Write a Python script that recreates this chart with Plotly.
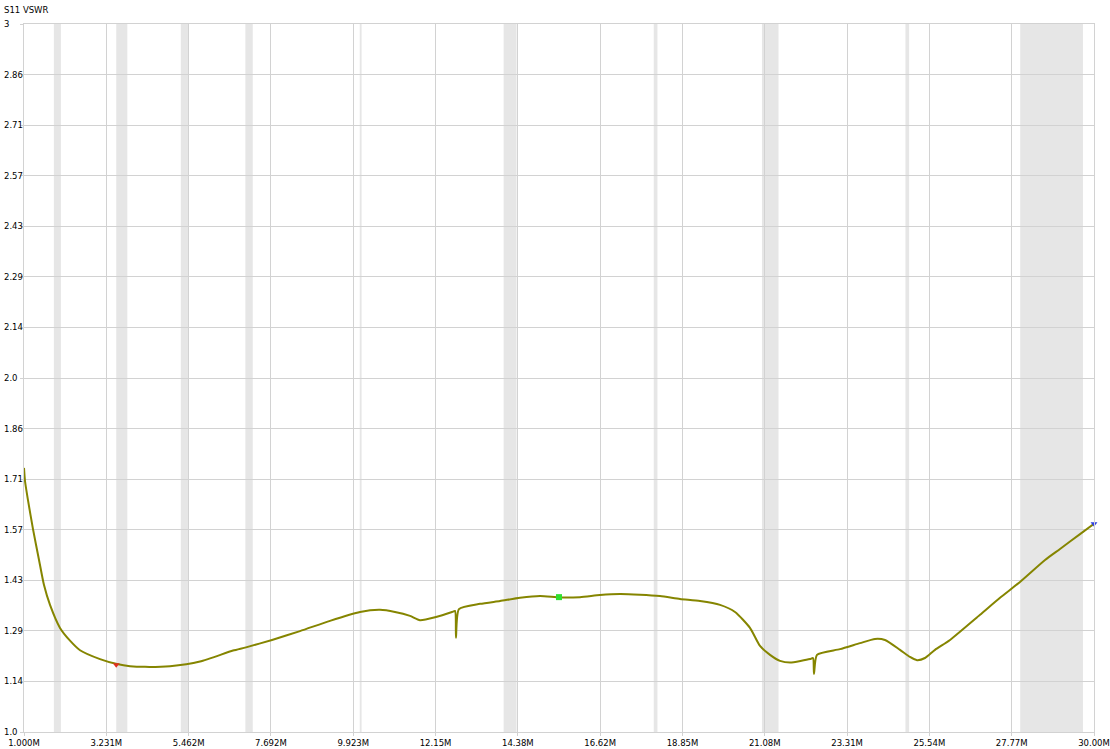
import plotly.graph_objects as go

freq_mhz = [1.000, 1.027, 1.108, 1.244, 1.407, 1.542, 1.705, 1.976, 2.247, 2.518,
            3.060, 3.521, 3.873, 4.279, 4.957, 5.770, 6.665, 7.017, 7.722, 8.480,
            9.293, 10.107, 10.649, 11.055, 11.462, 11.733, 12.166, 12.600, 12.681, 12.708,
            12.789, 13.359, 13.901, 14.443, 14.985, 15.527, 16.069, 16.611, 17.153, 17.695,
            18.237, 18.780, 19.322, 19.864, 20.270, 20.676, 20.948, 21.219, 21.490, 21.761,
            22.303, 22.384, 22.411, 22.492, 23.116, 23.658, 24.064, 24.335, 24.742, 25.013,
            25.203, 25.420, 25.691, 26.098, 26.911, 27.453, 27.995, 28.673, 29.079, 29.621,
            30.000]
vswr = [1.746, 1.709, 1.655, 1.573, 1.486, 1.415, 1.359, 1.294, 1.258, 1.231,
        1.206, 1.192, 1.186, 1.184, 1.186, 1.199, 1.230, 1.239, 1.260, 1.285,
        1.314, 1.339, 1.345, 1.339, 1.328, 1.316, 1.325, 1.339, 1.342, 1.266,
        1.347, 1.362, 1.370, 1.379, 1.384, 1.380, 1.381, 1.387, 1.390, 1.388,
        1.384, 1.376, 1.370, 1.359, 1.339, 1.294, 1.243, 1.218, 1.201, 1.196,
        1.206, 1.209, 1.164, 1.218, 1.234, 1.251, 1.263, 1.260, 1.232, 1.212,
        1.203, 1.209, 1.232, 1.260, 1.331, 1.379, 1.424, 1.486, 1.517, 1.559,
        1.588]

band_starts = [1.81, 3.5, 5.25, 7.0, 10.1, 14.0, 18.068, 21.0, 24.89, 28.0]
band_ends = [2.0, 3.8, 5.45, 7.2, 10.15, 14.35, 18.168, 21.45, 24.99, 29.7]

marker_freq = [3.5, 15.5, 30.0]
marker_vswr = [1.19, 1.381, 1.588]
marker_colors = ["#e03020", "#30e030", "#3040e0"]
marker_symbols = ["triangle-down", "square", "triangle-down"]

x_ticks = [round(1.0 + i * 29.0 / 13.0, 6) for i in range(14)]
x_tick_text = ["1.000M", "3.231M", "5.462M", "7.692M", "9.923M", "12.15M", "14.38M",
               "16.62M", "18.85M", "21.08M", "23.31M", "25.54M", "27.77M", "30.00M"]
y_ticks = [round(1.0 + i * 2.0 / 14.0, 6) for i in range(15)]
y_tick_text = ["1.0", "1.14", "1.29", "1.43", "1.57", "1.71", "1.86", "2.0",
               "2.14", "2.29", "2.43", "2.57", "2.71", "2.86", "3"]

fig = go.Figure()
fig.add_trace(go.Scatter(x=freq_mhz, y=vswr, mode="lines",
                         line=dict(color="#858500", width=2, shape="spline", smoothing=0.6),
                         hoverinfo="x+y", showlegend=False, cliponaxis=False))
fig.add_trace(go.Scatter(x=marker_freq, y=marker_vswr, mode="markers",
                         marker=dict(color=marker_colors, symbol=marker_symbols, size=6),
                         showlegend=False, cliponaxis=False))

for s, e in zip(band_starts, band_ends):
    fig.add_shape(type="rect", xref="x", yref="paper", x0=s, x1=e, y0=0, y1=1,
                  fillcolor="#e6e6e6", line=dict(width=0), layer="below")

grid = "#d2d2d2"
font = dict(family="DejaVu Sans, Verdana, sans-serif", size=8.5, color="#000000")

annotations = [dict(text="S11 VSWR", xref="paper", yref="paper", x=0, y=1,
                    xanchor="left", yanchor="middle", xshift=-22, yshift=14,
                    showarrow=False, font=font)]
for v, t in zip(y_ticks, y_tick_text):
    annotations.append(dict(text=t, xref="paper", yref="y", x=0, y=v,
                            xanchor="left", yanchor="middle", xshift=-22,
                            showarrow=False, font=font))

fig.update_layout(
    width=1110, height=749,
    margin=dict(l=24, r=16, t=24, b=17, autoexpand=False),
    paper_bgcolor="white", plot_bgcolor="white",
    font=font,
    xaxis=dict(range=[1, 30], tickvals=x_ticks, ticktext=x_tick_text, automargin=False,
               showgrid=True, gridcolor=grid, gridwidth=1, zeroline=False,
               showline=True, linecolor=grid, mirror=True,
               ticks="outside", ticklen=3, tickcolor=grid, tickfont=font),
    yaxis=dict(range=[1, 3], tickvals=y_ticks, showticklabels=False, automargin=False,
               showgrid=True, gridcolor=grid, gridwidth=1, zeroline=False,
               showline=True, linecolor=grid, mirror=True,
               ticks="outside", ticklen=3, tickcolor=grid),
    annotations=annotations,
)

fig.write_html("out.html", config={"displayModeBar": False},
               post_script="document.body.style.margin='0';document.body.style.overflow='hidden';")
